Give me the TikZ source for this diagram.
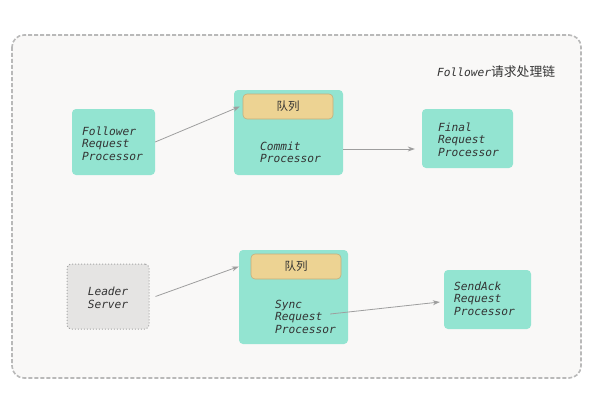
\documentclass[tikz,border=0pt]{standalone}
\usepackage{fontspec}
\setmonofont{DejaVu Sans Mono}
\newfontfamily\cjk{Noto Sans CJK SC}
\usetikzlibrary{positioning,arrows.meta}

\definecolor{boxgreen}{HTML}{93E4D1}
\definecolor{queuefill}{HTML}{EDD393}
\definecolor{queueline}{HTML}{C4AE7C}
\definecolor{pagefill}{HTML}{F9F8F7}
\definecolor{leaderfill}{HTML}{E5E4E3}
\definecolor{linegray}{HTML}{9E9E9E}
\definecolor{textgray}{HTML}{333333}

\tikzset{
    proc/.style={fill=boxgreen, rounded corners=4pt, inner sep=0pt},
    queuebox/.style={fill=queuefill, draw=queueline, line width=0.6pt, rounded corners=4pt,
        minimum width=90pt, minimum height=25pt, inner sep=0pt, font=\cjk\fontsize{11.5}{13}\selectfont, text=textgray},
    proctext/.style={align=left, inner sep=0pt, anchor=north west, text=textgray,
        font=\ttfamily\itshape\fontsize{11.2}{12.6}\selectfont},
    flow/.style={draw=linegray, line width=0.8pt, -{Stealth[length=7pt,width=5pt]}},
}

\begin{document}
\begin{tikzpicture}[x=1pt, y=-1pt]
    \useasboundingbox (0,0) rectangle (602,412);
    % outer frame
    \draw[fill=pagefill, draw=gray!55, dash pattern=on 4pt off 2pt, line width=1.6pt, rounded corners=12pt]
        (12,35) rectangle (581,378);
    \node[anchor=base west, inner sep=0pt, text=textgray] (title) at (437,76)
        {\ttfamily\itshape\fontsize{11.2}{13}\selectfont Follower\cjk\upshape\fontsize{12.8}{13}\selectfont 请求处理链};

    % first chain
    \node[proc, minimum width=83pt, minimum height=66pt] (frp) at (113.5,142) {};
    \node[proctext] (frpt) at (82,126.5) {Follower\\Request\\Processor};

    \node[proc, minimum width=109pt, minimum height=85pt] (cp) at (288.5,132.5) {};
    \node[queuebox] (cpq) at (288,106.5) {队列};
    \node[proctext] (cpt) at (260,141.5) {Commit\\Processor};

    \node[proc, minimum width=91pt, minimum height=59pt] (fin) at (467.5,138.5) {};
    \node[proctext] (fint) at (438,122.5) {Final\\Request\\Processor};

    % second chain
    \node[fill=leaderfill, draw=gray!70, dotted, line width=1pt, rounded corners=4pt,
        minimum width=82pt, minimum height=65pt, inner sep=0pt] (ls) at (108,296.5) {};
    \node[proctext, anchor=center, align=center] (lst) at ([yshift=-1.5pt]ls.center) {Leader\\Server};

    \node[proc, minimum width=109pt, minimum height=94pt] (sp) at (293.5,297) {};
    \node[queuebox] (spq) at (296,266.5) {队列};
    \node[proctext] (spt) at (275,299.5) {Sync\\Request\\Processor};

    \node[proc, minimum width=87pt, minimum height=59pt] (sa) at (487.5,299.5) {};
    \node[proctext] (sat) at (454,281.5) {SendAck\\Request\\Processor};

    % connectors
    \coordinate (cpin) at ([xshift=6pt]cp.west |- cpq.west);
    \coordinate (cpout) at (cp.east |- 0,149);
    \coordinate (finin) at ([xshift=-7pt]fin.west |- 0,149);
    \coordinate (spout) at ([xshift=-18pt]sp.east |- 0,314);
    \coordinate (sain) at ([xshift=-4pt]sa.west |- 0,302);
    \draw[flow] (frp.east) -- (cpin);
    \draw[flow] (cpout) -- (finin);
    \draw[flow] ([xshift=6pt]ls.east) -- (sp.west |- spq.west);
    \draw[flow] (spout) -- (sain);
\end{tikzpicture}
\end{document}
